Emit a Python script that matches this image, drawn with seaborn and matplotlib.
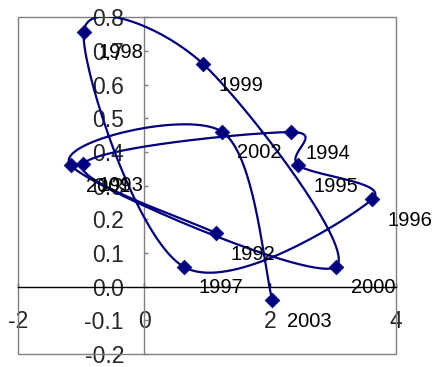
import numpy as np
import pandas as pd
import matplotlib
matplotlib.use("Agg")
import matplotlib.pyplot as plt
from matplotlib.patches import Rectangle
import seaborn as sns

# Yearly observations (x, y), drawn in chronological order
years = [1992, 1993, 1994, 1995, 1996, 1997, 1998, 1999, 2000, 2001, 2002, 2003]
x_vals = [1.14, -0.97, 2.33, 2.45, 3.63, 0.63, -0.96, 0.94, 3.05, -1.17, 1.24, 2.04]
y_vals = [0.159, 0.364, 0.459, 0.361, 0.260, 0.059, 0.757, 0.661, 0.059, 0.361, 0.460, -0.040]

x_ticks = [-2, 0, 2, 4]
y_ticks = [-0.2, -0.1, 0.0, 0.1, 0.2, 0.3, 0.4, 0.5, 0.6, 0.7, 0.8]

navy = "#000080"
gray = "#808080"


def smooth_path(xs, ys, n=40):
    """Smoothed connector through the points (Catmull-Rom as cubic Bezier)."""
    p = np.column_stack([xs, ys]).astype(float)
    ext = np.vstack([p[0], p, p[-1]])
    out = []
    t = np.linspace(0, 1, n)[:, None]
    for i in range(len(p) - 1):
        p0, p3 = ext[i + 1], ext[i + 2]
        c1 = p0 + (ext[i + 2] - ext[i]) / 6.0
        c2 = p3 - (ext[i + 3] - ext[i + 1]) / 6.0
        seg = ((1 - t) ** 3) * p0 + 3 * ((1 - t) ** 2) * t * c1 + 3 * (1 - t) * t ** 2 * c2 + t ** 3 * p3
        out.append(seg if i == 0 else seg[1:])
    return np.vstack(out)


sns.set_style("white")
plt.rcParams["font.family"] = ["Liberation Sans", "DejaVu Sans"]
plt.rcParams["axes.unicode_minus"] = False

fig = plt.figure(figsize=(4.38, 3.67), dpi=100)
ax = fig.add_axes([18.3 / 438, (367 - 354) / 367, (395.7 - 18.3) / 438, (354 - 17.3) / 367])

df = pd.DataFrame({"year": years, "x": x_vals, "y": y_vals})
curve = smooth_path(df["x"], df["y"])
curve_df = pd.DataFrame({"x": curve[:, 0], "y": curve[:, 1]})

sns.lineplot(data=curve_df, x="x", y="y", sort=False, estimator=None,
             color=navy, linewidth=1.6, ax=ax, zorder=3)
sns.scatterplot(data=df, x="x", y="y", marker="D", s=56, color=navy,
                edgecolor=navy, linewidth=0.5, ax=ax, zorder=4)

for yr, xv, yv in zip(df["year"], df["x"], df["y"]):
    ax.annotate(str(yr), (xv, yv), xytext=(15, -21), textcoords="offset pixels",
                ha="left", va="center", fontsize=14.5, color="black", zorder=5)

ax.set_xlim(-2, 4)
ax.set_ylim(-0.2, 0.8)
ax.set_xticks(x_ticks)
ax.set_xticklabels([str(v) for v in x_ticks])
ax.set_yticks(y_ticks)
ax.set_yticklabels([f"{v:.1f}" for v in y_ticks])
ax.set_xlabel("")
ax.set_ylabel("")

# axes cross at the origin; the plot area has its own border
ax.spines["left"].set_position(("data", 0))
ax.spines["bottom"].set_position(("data", 0))
ax.spines["left"].set_color(gray)
ax.spines["bottom"].set_color("black")
ax.spines["top"].set_visible(False)
ax.spines["right"].set_visible(False)
for sp in ("left", "bottom"):
    ax.spines[sp].set_linewidth(1.0)
    ax.spines[sp].set_zorder(1)
ax.add_patch(Rectangle((0, 0), 1, 1, transform=ax.transAxes, fill=False,
                       edgecolor=gray, linewidth=1.0, clip_on=False, zorder=1))

ax.tick_params(axis="y", direction="in", length=3, width=1, color=gray,
               pad=14.5, labelsize=16.5, left=True)
ax.tick_params(axis="x", direction="in", length=3, width=1, color="black",
               pad=17, labelsize=16.5, bottom=True)

fig.savefig("out.png", dpi=100, facecolor="white")
